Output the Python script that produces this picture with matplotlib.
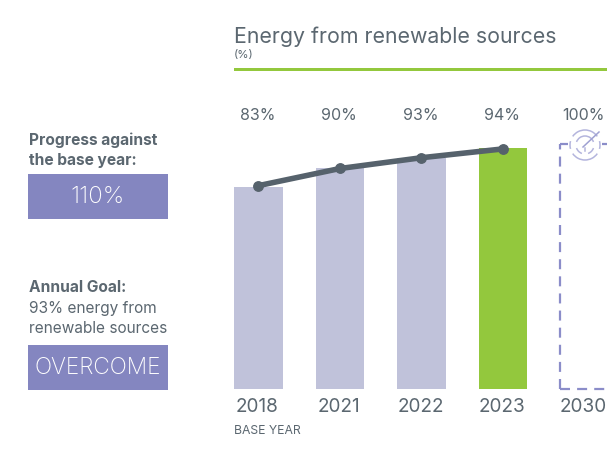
import numpy as np
import matplotlib
matplotlib.use("Agg")
import matplotlib.pyplot as plt
from matplotlib.patches import Arc, Rectangle

# ── DATA ────────────────────────────────────────────
years = ["2018", "2021", "2022", "2023", "2030"]
value_labels = ["83%", "90%", "93%", "94%", "100%"]
# bar heights as drawn in the picture (they don't follow the labels exactly)
bar_heights = [82.5, 90.0, 94.4, 98.4]
line_values = [83.0, 90.0, 94.4, 98.0]
target_height = 100

GREY = "#5b6770"
LINE_GREY = "#56626c"
GREEN = "#93c83d"
LILAC = "#c0c2da"
PURPLE = "#8486c0"
DASH = "#8b8dc9"
ICON = "#b4b5dd"

W, H = 607, 461
plt.rcParams["font.family"] = ["Inter", "DejaVu Sans"]

fig = plt.figure(figsize=(W / 100, H / 100), dpi=100)


def px_text(x, y, s, size, **kw):
    kw.setdefault("color", GREY)
    kw.setdefault("va", "center")
    fig.text(x / W, 1 - y / H, s, fontsize=size * 0.72, **kw)


# ── CHART ───────────────────────────────────────────
ax = fig.add_axes([234 / W, 1 - 389 / H, (607 - 234) / W, 245 / H])
ax.set_xlim(-0.3, 4.276)
ax.set_ylim(0, 100)
ax.axis("off")

xs = np.arange(len(years))
bar_colors = [LILAC, LILAC, LILAC, GREEN]
ax.bar(xs[:4], bar_heights, width=0.6, color=bar_colors, linewidth=0)
ax.plot(xs[:4], line_values, color=LINE_GREY, lw=4.0, marker="o", ms=6.8, solid_capstyle="round")

# dashed target bar for 2030, with a gap in the top edge for the icon
left, right = xs[4] - 0.3, xs[4] + 0.3
dash = dict(color=DASH, lw=1.6, dashes=(4.5, 3.2))
ax.plot([left, left], [0, target_height], clip_on=False, **dash)
ax.plot([left, right], [0, 0], clip_on=False, **dash)
ax.plot([left, xs[4] - 0.2], [target_height] * 2, clip_on=False, **dash)
ax.plot([xs[4] + 0.22, right], [target_height] * 2, clip_on=False, **dash)

# target icon, drawn in pixels on a figure wide overlay
ov = fig.add_axes([0, 0, 1, 1], facecolor="none")
ov.set_xlim(0, W)
ov.set_ylim(H, 0)
ov.axis("off")
ix, iy = 585, 145
rings = [(15, [(35, 145), (215, 325), (165, 195), (-15, 15)]), (9, [(20, 70), (110, 160), (200, 340)])]
for r, segs in rings:
    for a, b in segs:
        ov.add_patch(Arc((ix, iy), 2 * r, 2 * r, theta1=a, theta2=b, color=ICON, lw=1.1))
ov.plot([ix - 2, ix + 14], [iy + 2, iy - 13], color="#9fa1d2", lw=1.1)
ov.plot([ix, ix], [iy + 3, iy + 6], color=ICON, lw=1.1)

# ── HEADER ──────────────────────────────────────────
px_text(234, 37, "Energy from renewable sources", 21.3, fontweight="regular")
px_text(234, 55, "(%)", 11.5)
ov.add_patch(Rectangle((234, 68), 373, 2.6, color=GREEN, lw=0))

# ── VALUE AND YEAR LABELS ───────────────────────────
for i in range(len(years)):
    px = ax.transData.transform((xs[i], 0))[0]
    px_text(px - 1, 115, value_labels[i], 16, ha="center")
    px_text(px - 1, 407, years[i], 19, ha="center")
px_text(234, 431, "BASE YEAR", 12.2)

# ── LEFT PANEL ──────────────────────────────────────
px_text(29, 140, "Progress against", 15.5, fontweight="bold")
px_text(29, 160, "the base year:", 15.5, fontweight="bold")
ov.add_patch(Rectangle((28, 174), 140, 45, color=PURPLE, lw=0))
px_text(98, 197, "110%", 24, color="white", ha="center", fontweight="light")

px_text(29, 288, "Annual Goal:", 15.5, fontweight="bold")
px_text(29, 308, "93% energy from", 15.4)
px_text(29, 328, "renewable sources", 15.4)
ov.add_patch(Rectangle((28, 345), 140, 45, color=PURPLE, lw=0))
px_text(98, 368, "OVERCOME", 22.7, color="white", ha="center", fontweight="light")

fig.savefig("out.png", dpi=100)
